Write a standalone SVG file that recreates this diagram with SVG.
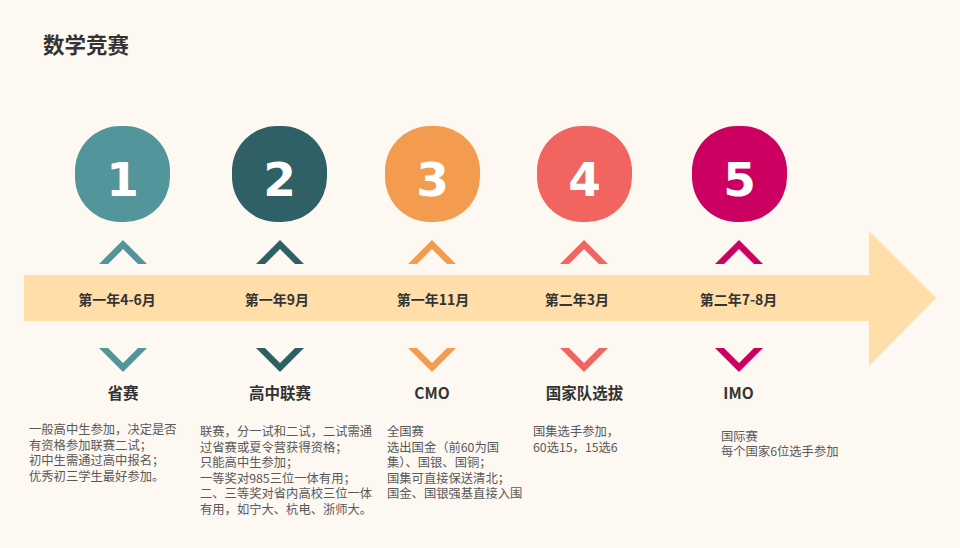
<svg xmlns="http://www.w3.org/2000/svg" width="960" height="548" viewBox="0 0 960 548">
<defs>
<style>
.title{font-family:"Noto Sans CJK SC","Noto Sans",sans-serif;font-weight:bold;font-size:21.5px;fill:#333333}
.num{font-family:"DejaVu Sans","Noto Sans",sans-serif;font-weight:bold;font-size:47px;fill:#ffffff;text-anchor:middle}
.date{font-family:"Noto Sans CJK SC","Noto Sans",sans-serif;font-weight:bold;font-size:14px;fill:#333333;text-anchor:middle}
.name{font-family:"Noto Sans CJK SC","Noto Sans",sans-serif;font-weight:bold;font-size:15.5px;fill:#333333;text-anchor:middle}
.desc{font-family:"Noto Sans CJK SC","Noto Sans",sans-serif;font-size:12.3px;fill:#595959}
</style>
<path id="up" d="M-24,264 L0,240 L24,264 L15,264 L0,249 L-15,264 Z"/>
<path id="down" d="M-24,348 L0,372 L24,348 L15,348 L0,363 L-15,348 Z"/>
</defs>
<rect x="0" y="0" width="960" height="548" fill="#FDF8F2"/>
<text class="title" x="43" y="53">数学竞赛</text>
<g id="connectors">
<path d="M24,275 L869,275 L869,231 L936,298 L869,366 L869,321 L24,321 Z" fill="#FFDEAA"/>
</g>
<g id="node1">
<rect x="75" y="126" width="95" height="96" rx="45" ry="45" fill="#52959A"/>
<text class="num" x="122.5" y="196">1</text>
<use href="#up" transform="translate(123,0)" fill="#52959A"/>
<text class="date" x="117" y="304.5">第一年4-6月</text>
<use href="#down" transform="translate(123,0)" fill="#52959A"/>
<text class="name" x="123" y="399">省赛</text>
<text class="desc" x="29" y="434">一般高中生参加，决定是否<tspan x="29" dy="15.5">有资格参加联赛二试；</tspan><tspan x="29" dy="15.5">初中生需通过高中报名；</tspan><tspan x="29" dy="15.5">优秀初三学生最好参加。</tspan></text>
</g>
<g id="node2">
<rect x="232" y="126" width="95" height="96" rx="45" ry="45" fill="#2E6065"/>
<text class="num" x="279.5" y="196">2</text>
<use href="#up" transform="translate(280,0)" fill="#2E6065"/>
<text class="date" x="277" y="304.5">第一年9月</text>
<use href="#down" transform="translate(280,0)" fill="#2E6065"/>
<text class="name" x="280" y="399">高中联赛</text>
<text class="desc" x="200" y="436">联赛，分一试和二试，二试需通<tspan x="200" dy="15.5">过省赛或夏令营获得资格；</tspan><tspan x="200" dy="15.5">只能高中生参加；</tspan><tspan x="200" dy="15.5">一等奖对985三位一体有用；</tspan><tspan x="200" dy="15.5">二、三等奖对省内高校三位一体</tspan><tspan x="200" dy="15.5">有用，如宁大、杭电、浙师大。</tspan></text>
</g>
<g id="node3">
<rect x="385" y="126" width="95" height="96" rx="45" ry="45" fill="#F39C50"/>
<text class="num" x="432.5" y="196">3</text>
<use href="#up" transform="translate(432,0)" fill="#F39C50"/>
<text class="date" x="433" y="304.5">第一年11月</text>
<use href="#down" transform="translate(432,0)" fill="#F39C50"/>
<text class="name" x="432" y="399">CMO</text>
<text class="desc" x="387" y="436">全国赛<tspan x="387" dy="15.6">选出国金（前60为国</tspan><tspan x="387" dy="15.6">集）、国银、国铜；</tspan><tspan x="387" dy="15.6">国集可直接保送清北；</tspan><tspan x="387" dy="15.6">国金、国银强基直接入围</tspan></text>
</g>
<g id="node4">
<rect x="537" y="126" width="95" height="96" rx="45" ry="45" fill="#F2645F"/>
<text class="num" x="584.5" y="196">4</text>
<use href="#up" transform="translate(584,0)" fill="#F2645F"/>
<text class="date" x="577" y="304.5">第二年3月</text>
<use href="#down" transform="translate(584,0)" fill="#F2645F"/>
<text class="name" x="584.5" y="399">国家队选拔</text>
<text class="desc" x="533" y="436">国集选手参加，<tspan x="533" dy="15.5">60选15，15选6</tspan></text>
</g>
<g id="node5">
<rect x="692" y="126" width="95" height="96" rx="45" ry="45" fill="#CC0060"/>
<text class="num" x="739.5" y="196">5</text>
<use href="#up" transform="translate(739,0)" fill="#CC0060"/>
<text class="date" x="738.5" y="304.5">第二年7-8月</text>
<use href="#down" transform="translate(739,0)" fill="#CC0060"/>
<text class="name" x="738.5" y="399">IMO</text>
<text class="desc" x="721" y="441">国际赛<tspan x="721" dy="15">每个国家6位选手参加</tspan></text>
</g>
</svg>
